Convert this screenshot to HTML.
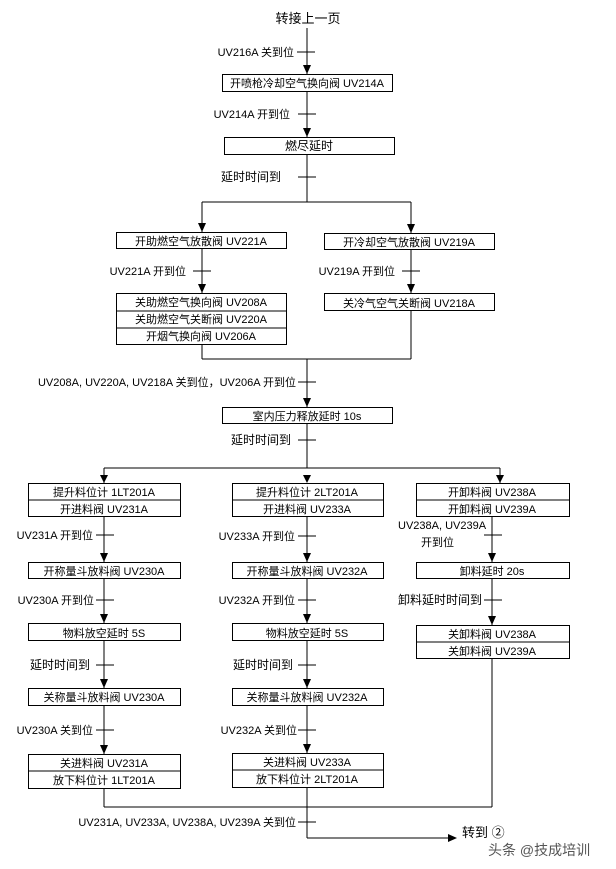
<!DOCTYPE html>
<html><head><meta charset="utf-8"><style>
html,body{margin:0;padding:0;background:#fff;}
svg{display:block;}
text{font-family:"Liberation Sans","Noto Sans CJK SC",sans-serif;font-size:11px;fill:#000;}
.c{text-anchor:middle;}
.r{text-anchor:end;}
.z{font-size:12px;}
</style></head><body>
<svg width="616" height="869" viewBox="0 0 616 869" xmlns="http://www.w3.org/2000/svg">
<g stroke="#000" stroke-width="1" fill="none">
<line x1="307" y1="28" x2="307" y2="74"/>
<line x1="297" y1="52" x2="315" y2="52"/>
<rect x="222.5" y="74.5" width="170" height="17"/>
<line x1="307" y1="91" x2="307" y2="137"/>
<line x1="298" y1="114" x2="316" y2="114"/>
<rect x="224.5" y="137.5" width="170" height="17"/>
<line x1="307" y1="155" x2="307" y2="202"/>
<line x1="298" y1="177" x2="316" y2="177"/>
<line x1="202" y1="202" x2="411" y2="202"/>
<line x1="202" y1="202" x2="202" y2="232"/>
<line x1="411" y1="202" x2="411" y2="233"/>
<rect x="116.5" y="232.5" width="170" height="16"/>
<rect x="324.5" y="233.5" width="170" height="16"/>
<line x1="202" y1="249" x2="202" y2="293"/>
<line x1="411" y1="250" x2="411" y2="293"/>
<line x1="193" y1="271" x2="211" y2="271"/>
<line x1="402" y1="271" x2="420" y2="271"/>
<rect x="116.5" y="293.5" width="170" height="51"/>
<line x1="116" y1="311" x2="287" y2="311"/>
<line x1="116" y1="328" x2="287" y2="328"/>
<rect x="324.5" y="293.5" width="170" height="17"/>
<line x1="202" y1="345" x2="202" y2="359"/>
<line x1="411" y1="311" x2="411" y2="359"/>
<line x1="202" y1="359" x2="411" y2="359"/>
<line x1="307" y1="359" x2="307" y2="407"/>
<line x1="298" y1="382" x2="316" y2="382"/>
<rect x="222.5" y="407.5" width="170" height="16"/>
<line x1="307" y1="424" x2="307" y2="468"/>
<line x1="298" y1="440" x2="316" y2="440"/>
<line x1="104" y1="468" x2="500" y2="468"/>
<line x1="104" y1="468" x2="104" y2="483"/>
<line x1="500" y1="468" x2="500" y2="483"/>
<rect x="28.5" y="483.5" width="152" height="33"/><line x1="28" y1="500" x2="181" y2="500"/>
<rect x="232.5" y="483.5" width="151" height="33"/><line x1="232" y1="500" x2="384" y2="500"/>
<rect x="416.5" y="483.5" width="153" height="33"/><line x1="416" y1="500" x2="570" y2="500"/>
<rect x="28.5" y="562.5" width="152" height="16"/>
<rect x="232.5" y="562.5" width="151" height="16"/>
<rect x="416.5" y="562.5" width="153" height="16"/>
<rect x="28.5" y="623.5" width="152" height="17"/>
<rect x="232.5" y="623.5" width="151" height="17"/>
<rect x="416.5" y="625.5" width="153" height="33"/><line x1="416" y1="642" x2="570" y2="642"/>
<rect x="28.5" y="688.5" width="152" height="17"/>
<rect x="232.5" y="688.5" width="151" height="17"/>
<rect x="28.5" y="754.5" width="152" height="34"/><line x1="28" y1="771" x2="181" y2="771"/>
<rect x="232.5" y="753.5" width="151" height="34"/><line x1="232" y1="770" x2="384" y2="770"/>
<line x1="104" y1="517" x2="104" y2="562"/><line x1="104" y1="579" x2="104" y2="623"/>
<line x1="104" y1="641" x2="104" y2="688"/><line x1="104" y1="706" x2="104" y2="754"/>
<line x1="307" y1="517" x2="307" y2="562"/><line x1="307" y1="579" x2="307" y2="623"/>
<line x1="307" y1="641" x2="307" y2="688"/><line x1="307" y1="706" x2="307" y2="753"/>
<line x1="492" y1="517" x2="492" y2="562"/><line x1="492" y1="579" x2="492" y2="625"/>
<line x1="96" y1="535" x2="114" y2="535"/><line x1="298" y1="536" x2="316" y2="536"/><line x1="484" y1="535" x2="502" y2="535"/>
<line x1="96" y1="600" x2="114" y2="600"/><line x1="298" y1="600" x2="316" y2="600"/><line x1="484" y1="600" x2="502" y2="600"/>
<line x1="96" y1="665" x2="114" y2="665"/><line x1="298" y1="665" x2="316" y2="665"/>
<line x1="96" y1="730" x2="114" y2="730"/><line x1="298" y1="730" x2="316" y2="730"/>
<line x1="104" y1="789" x2="104" y2="807"/>
<line x1="307" y1="788" x2="307" y2="838"/>
<line x1="492" y1="659" x2="492" y2="807"/>
<line x1="104" y1="807" x2="492" y2="807"/>
<line x1="298" y1="822" x2="316" y2="822"/>
<line x1="307" y1="838" x2="450" y2="838"/>
</g>
<g fill="#000">
<polygon points="303,65 311,65 307,74"/>
<polygon points="303,128 311,128 307,137"/>
<polygon points="198,223 206,223 202,232"/>
<polygon points="407,224 415,224 411,233"/>
<polygon points="198,284 206,284 202,293"/>
<polygon points="407,284 415,284 411,293"/>
<polygon points="303,398 311,398 307,407"/>
<polygon points="100,475 108,475 104,483"/>
<polygon points="303,475 311,475 307,483"/>
<polygon points="496,475 504,475 500,483"/>
<polygon points="100,553 108,553 104,562"/><polygon points="303,553 311,553 307,562"/><polygon points="488,553 496,553 492,562"/>
<polygon points="100,614 108,614 104,623"/><polygon points="303,614 311,614 307,623"/><polygon points="488,616 496,616 492,625"/>
<polygon points="100,679 108,679 104,688"/><polygon points="303,679 311,679 307,688"/>
<polygon points="100,745 108,745 104,754"/><polygon points="303,744 311,744 307,753"/>
<polygon points="448,834 448,842 457,838"/>
</g>
<text class="c" x="308" y="23" style="font-size:13px">转接上一页</text>
<text class="r" x="294" y="56">UV216A 关到位</text>
<text class="c" x="307" y="87">开喷枪冷却空气换向阀 UV214A</text>
<text class="r" x="290" y="118">UV214A 开到位</text>
<text class="c z" x="309" y="150">燃尽延时</text>
<text class="r z" x="281" y="181">延时时间到</text>
<text class="c" x="201" y="245">开助燃空气放散阀 UV221A</text>
<text class="c" x="409" y="246">开冷却空气放散阀 UV219A</text>
<text class="r" x="186" y="275">UV221A 开到位</text>
<text class="r" x="395" y="275">UV219A 开到位</text>
<text class="c" x="201" y="306">关助燃空气换向阀 UV208A</text>
<text class="c" x="201" y="323">关助燃空气关断阀 UV220A</text>
<text class="c" x="201" y="340">开烟气换向阀 UV206A</text>
<text class="c" x="409" y="307">关冷气空气关断阀 UV218A</text>
<text class="r" x="296" y="386">UV208A, UV220A, UV218A 关到位，UV206A 开到位</text>
<text class="c" x="307" y="420">室内压力释放延时 10s</text>
<text class="r z" x="291" y="444">延时时间到</text>
<text class="c" x="104" y="496">提升料位计 1LT201A</text>
<text class="c" x="104" y="513">开进料阀 UV231A</text>
<text class="c" x="307" y="496">提升料位计 2LT201A</text>
<text class="c" x="307" y="513">开进料阀 UV233A</text>
<text class="c" x="492" y="496">开卸料阀 UV238A</text>
<text class="c" x="492" y="513">开卸料阀 UV239A</text>
<text class="r" x="93" y="539">UV231A 开到位</text>
<text class="r" x="295" y="540">UV233A 开到位</text>
<text x="398" y="529">UV238A, UV239A</text>
<text x="421" y="546">开到位</text>
<text class="c" x="104" y="575">开称量斗放料阀 UV230A</text>
<text class="c" x="307" y="575">开称量斗放料阀 UV232A</text>
<text class="c" x="492" y="575">卸料延时 20s</text>
<text class="r" x="94" y="604">UV230A 开到位</text>
<text class="r" x="295" y="604">UV232A 开到位</text>
<text class="r z" x="482" y="604">卸料延时时间到</text>
<text class="c" x="104" y="637">物料放空延时 5S</text>
<text class="c" x="307" y="637">物料放空延时 5S</text>
<text class="c" x="492" y="638">关卸料阀 UV238A</text>
<text class="c" x="492" y="655">关卸料阀 UV239A</text>
<text class="r z" x="90" y="669">延时时间到</text>
<text class="r z" x="293" y="669">延时时间到</text>
<text class="c" x="104" y="701">关称量斗放料阀 UV230A</text>
<text class="c" x="307" y="701">关称量斗放料阀 UV232A</text>
<text class="r" x="93" y="734">UV230A 关到位</text>
<text class="r" x="297" y="734">UV232A 关到位</text>
<text class="c" x="104" y="767">关进料阀 UV231A</text>
<text class="c" x="104" y="784">放下料位计 1LT201A</text>
<text class="c" x="307" y="766">关进料阀 UV233A</text>
<text class="c" x="307" y="783">放下料位计 2LT201A</text>
<text class="r" x="296" y="826">UV231A, UV233A, UV238A, UV239A 关到位</text>
<text x="462" y="837" style="font-size:13px">转到 ②</text>
<text x="488" y="855" style="font-size:14px;fill:#555">头条 @技成培训</text>
</svg>
</body></html>
